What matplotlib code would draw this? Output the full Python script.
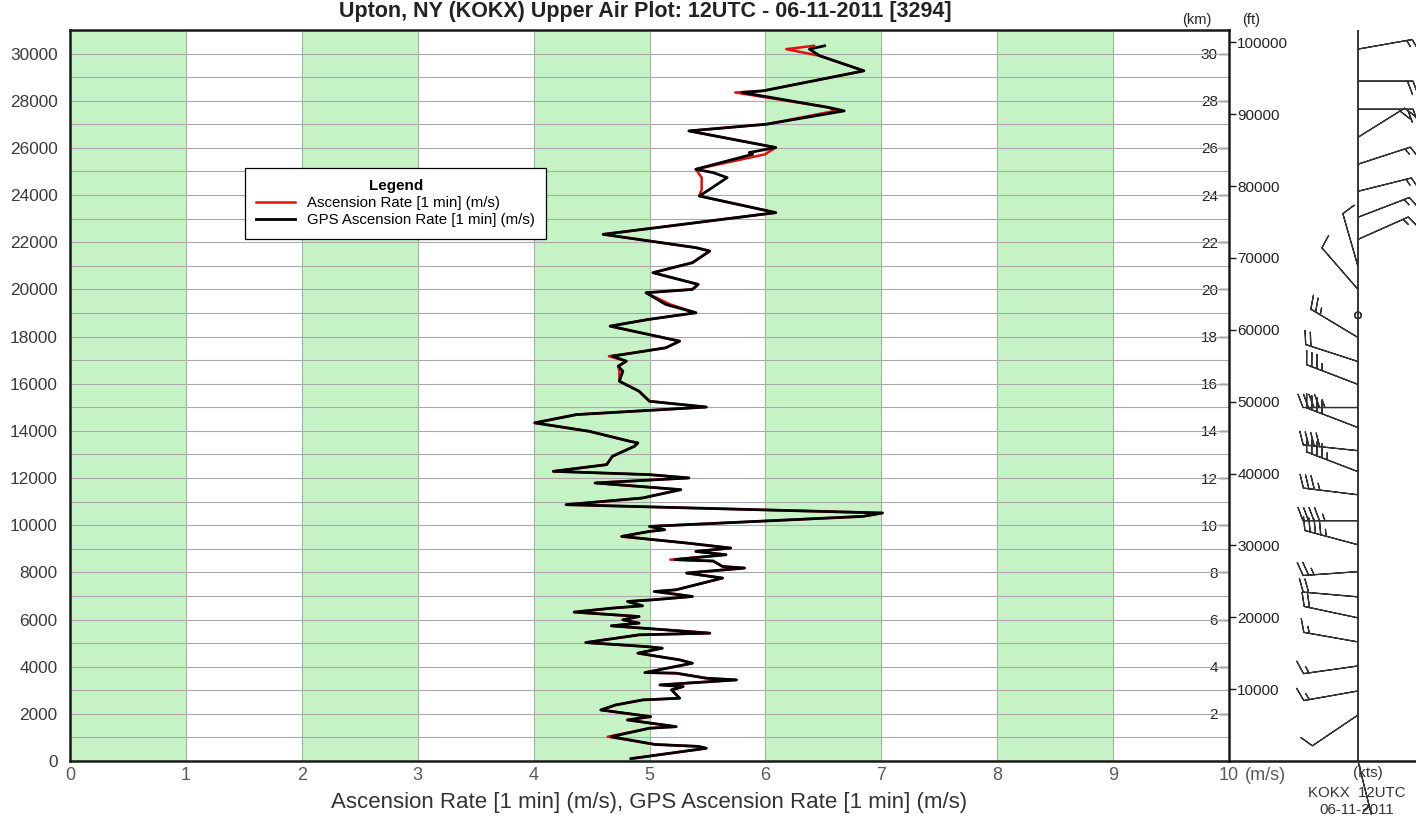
import numpy as np
import matplotlib
matplotlib.use("Agg")
import matplotlib.pyplot as plt
from matplotlib.lines import Line2D

plt.rcParams["font.family"] = ["Liberation Sans", "DejaVu Sans"]

# ---- sounding data -------------------------------------------------------
altitude_m = [
    100, 540, 620, 700, 1030, 1390, 1456, 1741, 1881, 2165,
    2378, 2590, 2662, 3015, 3155, 3227, 3439, 3511, 3724, 3749,
    4148, 4289, 4573, 4785, 4853, 5023, 5350, 5422, 5562, 5732,
    5847, 5987, 6127, 6314, 6484, 6581, 6764, 6836, 6976, 7188,
    7261, 7758, 7970, 8182, 8250, 8480, 8540, 8747, 8887, 9031,
    9244, 9524, 9736, 9808, 9948, 10373, 10517, 10870, 11154, 11507,
    11791, 12003, 12144, 12284, 12568, 12921, 13346, 13490, 13558, 13982,
    14339, 14691, 15010, 15256, 15681, 16105, 16530, 16742, 16955, 17167,
    17300, 17522, 17804, 18441, 18725, 19009, 19362, 19858, 19999, 20211,
    20708, 21132, 21625, 21770, 22334, 23255, 23960, 24245, 24741, 24950,
    25094, 25731, 25802, 26015, 26720, 27005, 27570, 27712, 28350, 28420,
    29268, 29904, 30189, 30330,
]

ascension_rate = [
    4.84, 5.49, 5.42, 5.05, 4.64, 5.00, 5.23, 4.81, 5.01, 4.58,
    4.71, 4.94, 5.26, 5.19, 5.29, 5.09, 5.75, 5.49, 5.23, 4.96,
    5.37, 5.26, 4.90, 5.11, 4.97, 4.45, 4.91, 5.52, 5.14, 4.67,
    4.91, 4.77, 4.91, 4.35, 4.68, 4.94, 4.81, 5.03, 5.37, 5.08,
    5.23, 5.63, 5.32, 5.82, 5.63, 5.55, 5.18, 5.66, 5.40, 5.70,
    5.32, 4.76, 5.00, 5.13, 5.00, 6.84, 7.01, 4.28, 4.94, 5.27,
    4.53, 5.34, 5.00, 4.17, 4.63, 4.68, 4.87, 4.90, 4.83, 4.48,
    4.01, 4.37, 5.49, 5.00, 4.91, 4.74, 4.74, 4.73, 4.80, 4.65,
    4.85, 5.14, 5.26, 4.66, 4.99, 5.40, 5.18, 4.97, 5.37, 5.42,
    5.03, 5.37, 5.52, 5.40, 4.60, 6.09, 5.43, 5.45, 5.45, 5.42,
    5.40, 6.00, 6.02, 6.09, 5.34, 6.01, 6.60, 6.55, 5.74, 5.98,
    6.85, 6.47, 6.18, 6.42,
]

gps_ascension_rate = [
    4.84, 5.49, 5.42, 5.05, 4.67, 5.00, 5.23, 4.81, 5.01, 4.58,
    4.71, 4.94, 5.26, 5.19, 5.29, 5.09, 5.75, 5.49, 5.23, 4.96,
    5.37, 5.26, 4.90, 5.11, 4.97, 4.45, 4.91, 5.52, 5.14, 4.67,
    4.91, 4.77, 4.91, 4.35, 4.68, 4.94, 4.81, 5.03, 5.37, 5.04,
    5.23, 5.63, 5.32, 5.82, 5.63, 5.55, 5.22, 5.66, 5.40, 5.70,
    5.32, 4.76, 5.00, 5.13, 5.00, 6.84, 7.01, 4.28, 4.94, 5.27,
    4.53, 5.34, 5.00, 4.17, 4.63, 4.68, 4.87, 4.90, 4.83, 4.48,
    4.01, 4.37, 5.49, 5.00, 4.91, 4.74, 4.77, 4.73, 4.80, 4.68,
    4.85, 5.14, 5.26, 4.66, 4.99, 5.40, 5.14, 4.97, 5.37, 5.42,
    5.03, 5.37, 5.52, 5.40, 4.60, 6.09, 5.43, 5.52, 5.67, 5.55,
    5.40, 5.89, 5.86, 6.09, 5.34, 6.01, 6.68, 6.55, 5.80, 5.98,
    6.85, 6.47, 6.38, 6.51,
]

# wind profile: altitude (m), direction the wind blows from (deg), speed (kt)
wind_alt = [30190, 28830, 27640, 26450, 25310, 24160, 23060, 22120, 20970, 20000,
            18900, 17960, 16940, 15970, 14990, 14140, 13160, 12270, 11290, 10190,
            9170, 8030, 6960, 6070, 5050, 4030, 2970, 1950, 0]
wind_dir = [80, 90, 90, 58, 72, 76, 69, 66, 344, 319,
            0, 301, 288, 291, 270, 291, 276, 291, 277, 270,
            285, 266, 275, 282, 280, 262, 260, 236, 166]
wind_kt = [15, 20, 20, 20, 15, 15, 15, 15, 10, 10,
           0, 25, 20, 35, 45, 40, 40, 45, 35, 45,
           45, 25, 20, 20, 15, 15, 15, 10, 5]

x_ticks = list(range(0, 11))
y_ticks = list(range(0, 30001, 2000))
km_ticks = list(range(2, 31, 2))
ft_ticks = list(range(10000, 100001, 10000))
green_bands = [(0, 1), (2, 3), (4, 5), (6, 7), (8, 9)]

title = "Upton, NY (KOKX) Upper Air Plot: 12UTC - 06-11-2011 [3294]"
x_label = "Ascension Rate [1 min] (m/s), GPS Ascension Rate [1 min] (m/s)"

# ---- figure --------------------------------------------------------------
W, H = 1416, 818
fig = plt.figure(figsize=(W / 100, H / 100), dpi=100)


def fx(px):
    return px / W


def fy(py):
    return 1 - py / H


ax = fig.add_axes([fx(70), fy(761), fx(1229) - fx(70), fy(30) - fy(761)])
ax.set_xlim(0, 10)
ax.set_ylim(0, 31000)

for a, b in green_bands:
    ax.axvspan(a, b, color="#c6f3c6", lw=0, zorder=0)

ax.set_xticks(x_ticks)
ax.set_yticks(y_ticks)
ax.set_yticks(range(0, 31001, 1000), minor=True)
ax.grid(axis="y", which="both", color="#a9a9a9", lw=0.8, zorder=1)
ax.grid(axis="x", which="major", color="#9db59d", lw=0.8, zorder=1)
ax.tick_params(axis="both", which="both", length=0)
ax.tick_params(axis="y", labelsize=12.4, labelcolor="#3a3a3a", pad=9)
ax.tick_params(axis="x", labelsize=13, labelcolor="#5a5a5a", pad=4)
ax.set_axisbelow(True)

ax.plot(ascension_rate, altitude_m, color="#e01010", lw=1.8, zorder=3)
ax.plot(gps_ascension_rate, altitude_m, color="black", lw=2.0, zorder=4)

for side in ("left", "right", "top", "bottom"):
    ax.spines[side].set_linewidth(1.8)
    ax.spines[side].set_color("#1a1a1a")

ax.set_xlabel(x_label, fontsize=16, color="#333333", labelpad=6)

# altitude in km (inside) and ft (outside) on the right edge
sec_km = ax.secondary_yaxis("right", functions=(lambda m: m / 1000.0, lambda k: k * 1000.0))
sec_km.set_yticks(km_ticks)
sec_km.tick_params(direction="in", length=7, width=1, pad=-8, labelsize=11,
                   labelcolor="#222222", color="#1a1a1a")
sec_km.spines["right"].set_visible(False)
for lbl in sec_km.get_yticklabels():
    lbl.set_horizontalalignment("right")

sec_ft = ax.secondary_yaxis("right", functions=(lambda m: m / 0.3048, lambda f: f * 0.3048))
sec_ft.set_yticks(ft_ticks)
sec_ft.tick_params(direction="out", length=5, width=1, pad=1, labelsize=11,
                   labelcolor="#222222", color="#1a1a1a")
sec_ft.spines["right"].set_visible(False)

fig.text(fx(1197), fy(20), "(km)", ha="center", va="center", fontsize=10.5, color="#222222")
fig.text(fx(1251), fy(20), "(ft)", ha="center", va="center", fontsize=10.5, color="#222222")

# legend
handles = [
    Line2D([], [], color="#e01010", lw=1.8, label="Ascension Rate [1 min] (m/s)"),
    Line2D([], [], color="black", lw=2.0, label="GPS Ascension Rate [1 min] (m/s)"),
]
leg = ax.legend(handles=handles, title="Legend", loc="upper left",
                bbox_to_anchor=((245 - 70) / 1159, (761 - 168) / 731),
                fontsize=10.8, title_fontproperties={"weight": "bold", "size": 11},
                frameon=True, fancybox=False, edgecolor="black", framealpha=1,
                borderaxespad=0, handlelength=2.6, handletextpad=0.8,
                borderpad=0.75, labelspacing=0.2)
leg.get_frame().set_linewidth(0.9)

# ---- wind barb panel -----------------------------------------------------
wax = fig.add_axes([fx(1229), fy(761), fx(W) - fx(1229), fy(30) - fy(761)])
wax.set_xlim(0, 1)
wax.set_ylim(0, 31000)
wax.set_xticks([])
wax.set_yticks([])
for side in ("left", "right", "top"):
    wax.spines[side].set_visible(False)
wax.spines["bottom"].set_linewidth(1.8)
wax.spines["bottom"].set_color("#1a1a1a")
wax.patch.set_alpha(0)

pole_x = (1358 - 1229) / (W - 1229)
wax.axvline(pole_x, color="black", lw=1.1)

theta = np.radians(wind_dir)
spd = np.array(wind_kt, dtype=float)
u = -spd * np.sin(theta)
v = -spd * np.cos(theta)
wax.barbs(np.full(len(wind_alt), pole_x), wind_alt, u, v, length=8.9,
          linewidth=0.9, barbcolor="#333333", flagcolor="#333333",
          sizes=dict(spacing=0.1, height=0.24, width=0.18, emptybarb=0.06),
          clip_on=False, zorder=5)

fig.text(fx(1265), fy(775), "(m/s)", ha="center", va="center", fontsize=13, color="#5a5a5a")
fig.text(fx(1368), fy(773), "(kts)", ha="center", va="center", fontsize=11, color="#333333")
fig.text(fx(1357), fy(793), "KOKX  12UTC", ha="center", va="center", fontsize=10.8, color="#333333")
fig.text(fx(1357), fy(810), "06-11-2011", ha="center", va="center", fontsize=10.8, color="#333333")

fig.text(fx(645), fy(17), title, ha="center", va="baseline", fontsize=15.5,
         fontweight="bold", color="#222222")

fig.savefig("out.png", dpi=100)
